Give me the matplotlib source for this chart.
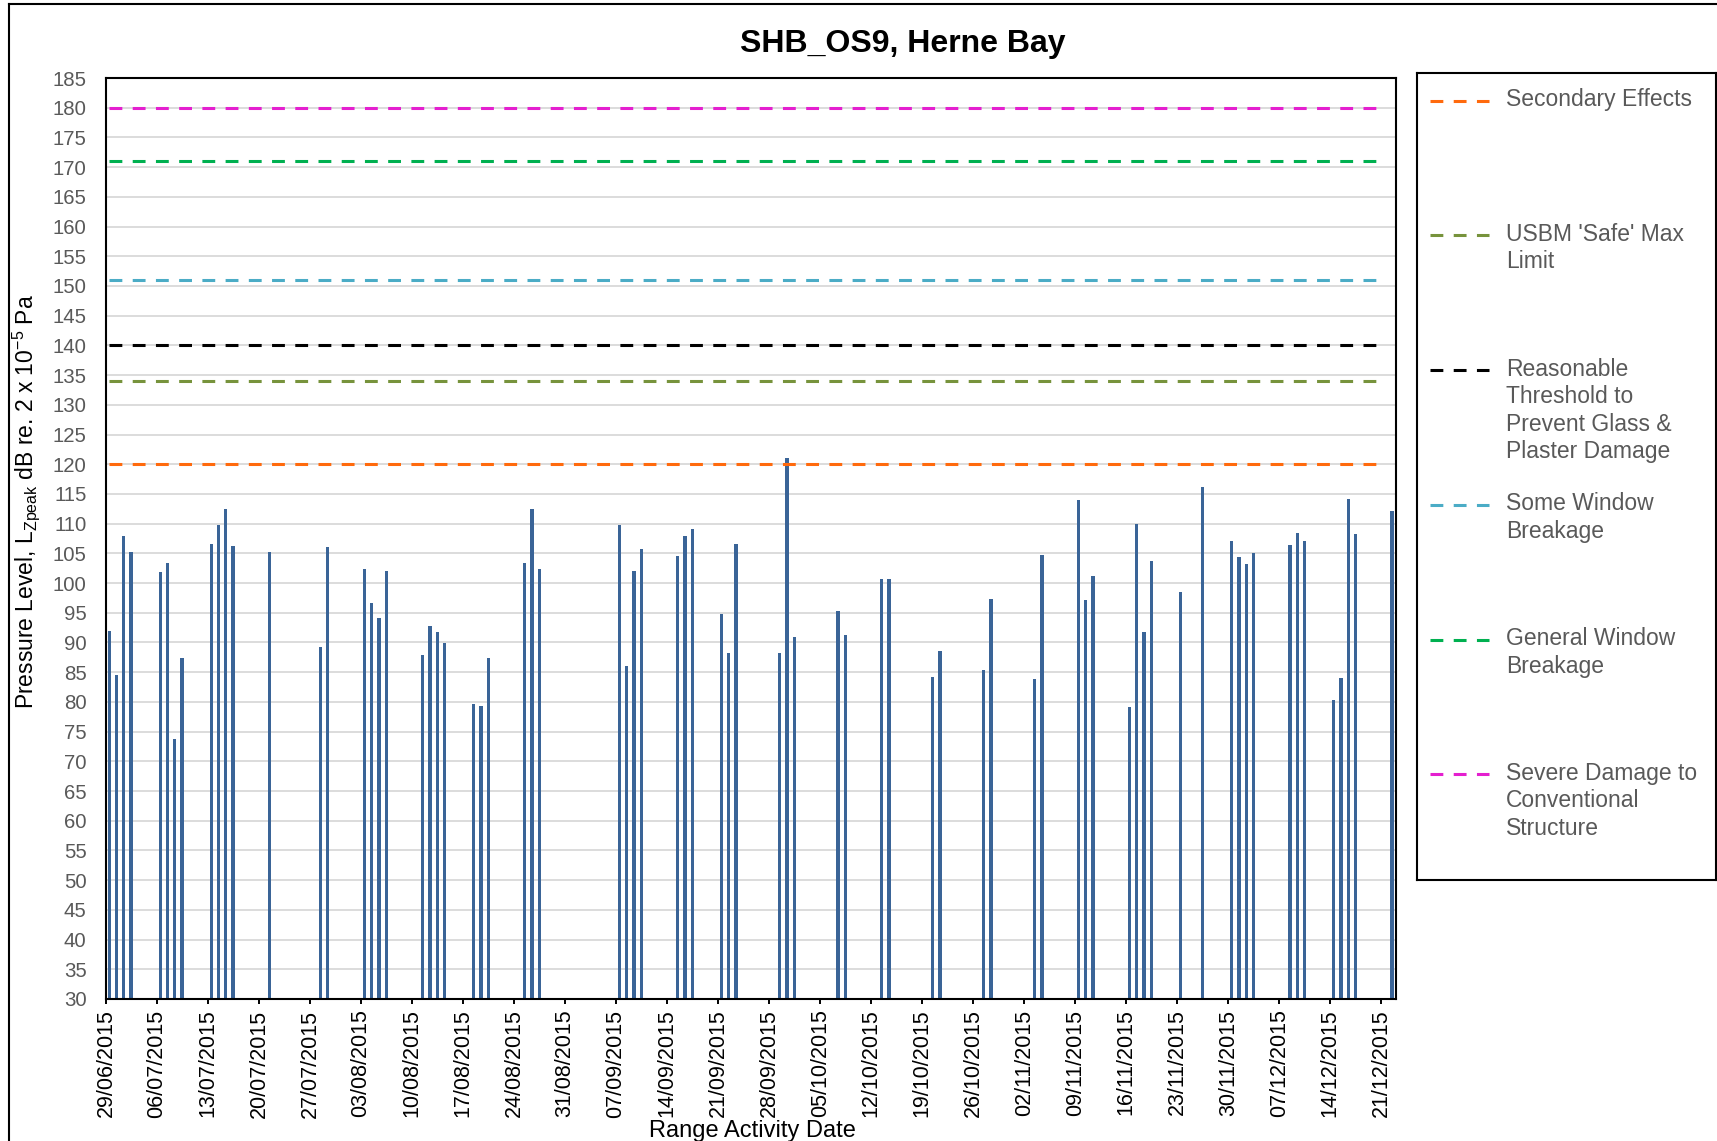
import numpy as np
import pandas as pd
import matplotlib
matplotlib.use("Agg")
import matplotlib.pyplot as plt
import matplotlib.dates as mdates

plt.rcParams['font.family'] = ['Liberation Sans', 'DejaVu Sans']
plt.rcParams['mathtext.default'] = 'regular'

# measured peak levels per range activity day
dates = ["29/06/2015", "30/06/2015", "01/07/2015", "02/07/2015",
         "06/07/2015", "07/07/2015", "08/07/2015", "09/07/2015",
         "13/07/2015", "14/07/2015", "15/07/2015", "16/07/2015",
         "21/07/2015", "28/07/2015", "29/07/2015",
         "03/08/2015", "04/08/2015", "05/08/2015", "06/08/2015",
         "11/08/2015", "12/08/2015", "13/08/2015", "14/08/2015",
         "18/08/2015", "19/08/2015", "20/08/2015",
         "25/08/2015", "26/08/2015", "27/08/2015",
         "07/09/2015", "08/09/2015", "09/09/2015", "10/09/2015",
         "15/09/2015", "16/09/2015", "17/09/2015",
         "21/09/2015", "22/09/2015", "23/09/2015",
         "29/09/2015", "30/09/2015", "01/10/2015",
         "07/10/2015", "08/10/2015", "13/10/2015", "14/10/2015",
         "20/10/2015", "21/10/2015", "27/10/2015", "28/10/2015",
         "03/11/2015", "04/11/2015", "09/11/2015", "10/11/2015", "11/11/2015",
         "16/11/2015", "17/11/2015", "18/11/2015", "19/11/2015",
         "23/11/2015", "26/11/2015",
         "30/11/2015", "01/12/2015", "02/12/2015", "03/12/2015",
         "08/12/2015", "09/12/2015", "10/12/2015",
         "14/12/2015", "15/12/2015", "16/12/2015", "17/12/2015",
         "22/12/2015"]
levels = [92, 84.5, 108, 105.2,
          101.8, 103.3, 73.8, 87.4,
          106.5, 109.7, 112.5, 106.3,
          105.2, 89.3, 106,
          102.4, 96.6, 94.1, 102,
          87.9, 92.8, 91.8, 89.9,
          79.7, 79.3, 87.4,
          103.4, 112.4, 102.4,
          109.7, 86.1, 102.1, 105.7,
          104.5, 107.9, 109.1,
          94.8, 88.3, 106.6,
          88.3, 121.1, 90.9,
          95.3, 91.2, 100.7, 100.7,
          84.2, 88.6, 85.3, 97.4,
          83.8, 104.7, 114, 97.1, 101.2,
          79.1, 110, 91.8, 103.7,
          98.5, 116.2,
          107, 104.4, 103.2, 105,
          106.4, 108.5, 107.1,
          80.4, 84.1, 114.2, 108.2,
          112.1]

# criteria lines
limit_names = ["Secondary Effects", "USBM 'Safe' Max\nLimit",
               "Reasonable\nThreshold to\nPrevent Glass &\nPlaster Damage",
               "Some Window\nBreakage", "General Window\nBreakage",
               "Severe Damage to\nConventional\nStructure"]
limit_values = [120, 134, 140, 151, 171, 180]
limit_colors = ["#FF6A0D", "#77933C", "#000000", "#4BACC6", "#00B050", "#E41FCF"]
limit_start = "29/06/2015"
limit_end = "21/12/2015"

tick_dates = pd.date_range("2015-06-29", "2015-12-21", freq="7D")

fig = plt.figure(figsize=(17.17, 11.41), dpi=100)
ax = fig.add_axes([0.0617, 0.1245, 0.7513, 0.8071])

x = mdates.date2num(pd.to_datetime(dates, dayfirst=True)) + 0.45
ax.bar(x, levels, width=0.45, color="#3A6497", zorder=2)

lx = mdates.date2num(pd.to_datetime([limit_start, limit_end], dayfirst=True)) + 0.45
for val, col in zip(limit_values, limit_colors):
    ax.plot(lx, [val, val], color=col, lw=2.2, dashes=(4.2, 3.4), zorder=3)

ax.set_ylim(30, 185)
ax.set_yticks(np.arange(30, 186, 5))
ax.set_xlim(mdates.date2num(pd.Timestamp("2015-06-29")),
            mdates.date2num(pd.Timestamp("2015-12-23")))
ax.set_xticks(mdates.date2num(tick_dates))
ax.xaxis.set_major_formatter(mdates.DateFormatter("%d/%m/%Y"))
ax.grid(axis="y", color="#D9D9D9", lw=1.3, zorder=0)
ax.set_axisbelow(True)

ax.tick_params(axis="y", length=0, pad=14, labelsize=14.7, labelcolor="#595959")
ax.tick_params(axis="x", length=3.6, width=1.4, pad=4, labelsize=15.5,
               labelcolor="black", labelrotation=90)
for s in ax.spines.values():
    s.set_linewidth(1.5)
    s.set_color("black")

fig.text(0.526, 0.961, "SHB_OS9, Herne Bay", fontsize=23, fontweight="bold",
         ha="center", va="center")
fig.text(26 / 1717, 1 - 502 / 1141,
         "Pressure Level, L$_{Zpeak}$ dB re. 2 x 10$^{-5}$ Pa",
         fontsize=16.5, rotation=90, ha="center", va="center")
fig.text(752 / 1717, 1 - 1137 / 1141, "Range Activity Date", fontsize=17,
         ha="center", va="baseline")

# legend panel
lg = fig.add_axes([0.8253, 0.2287, 0.1741, 0.7073])
lg.set_xlim(0, 1)
lg.set_ylim(0, 1)
lg.set_xticks([])
lg.set_yticks([])
for s in lg.spines.values():
    s.set_linewidth(1.5)
entry_y = [0.9656, 0.7987, 0.6318, 0.4649, 0.2980, 0.1311]
for name, col, yy in zip(limit_names, limit_colors, entry_y):
    lg.plot([0.0435, 0.2408], [yy, yy], color=col, lw=2.2, dashes=(4.2, 3.4))
    lg.text(0.2977, yy + 0.0155, name, fontsize=16.5, color="#595959",
            ha="left", va="top", linespacing=1.25)

# outer chart border
fig.add_artist(plt.Line2D([9 / 1717, 9 / 1717], [-0.01, 1 - 4 / 1141],
                          color="black", lw=1.5, transform=fig.transFigure))
fig.add_artist(plt.Line2D([9 / 1717, 1.01], [1 - 4 / 1141, 1 - 4 / 1141],
                          color="black", lw=1.5, transform=fig.transFigure))

fig.savefig("out.png", dpi=100)
